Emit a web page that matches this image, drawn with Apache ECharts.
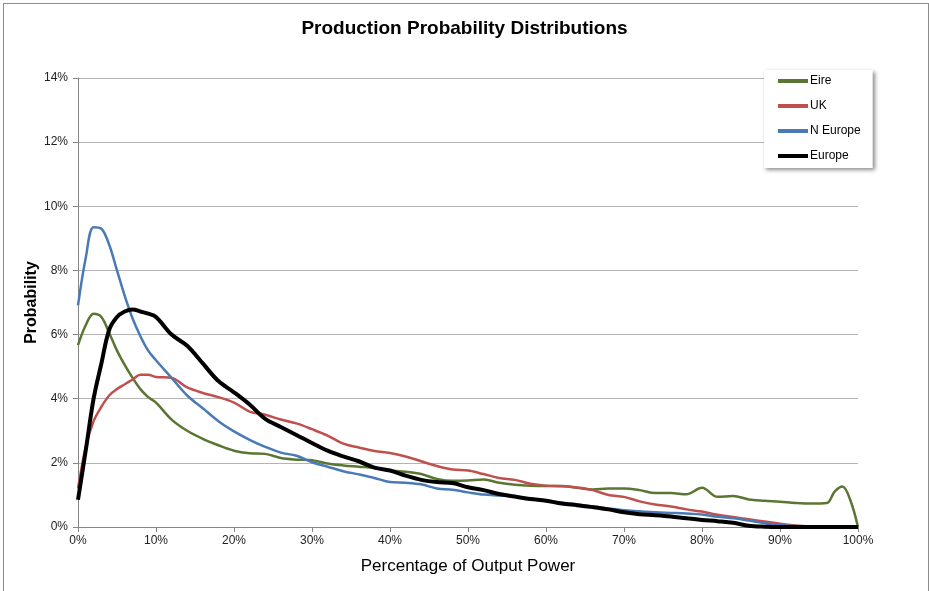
<!DOCTYPE html>
<html><head><meta charset="utf-8">
<script src="https://cdn.jsdelivr.net/npm/echarts@6/dist/echarts.min.js"></script>
<style>
html,body{margin:0;padding:0;background:#fff;overflow:hidden;}
#wrap{position:absolute;left:3px;top:3px;width:924px;height:620px;border:1px solid #8c8c8c;}
#c{width:929px;height:591px;position:absolute;left:0;top:0;}
</style></head>
<body><div id="wrap"></div><div id="c"></div>
<script>
const pct = [0,1,2,3,4,5,6,7,8,9,10,12,14,16,18,20,22,24,26,28,30,32,34,36,38,40,42,44,46,48,50,52,54,56,58,60,62,64,66,68,70,72,74,76,78,80,82,84,86,88,90,92,94,96,97,98,99,100];
const eire = [5.67,6.3,6.65,6.55,6.05,5.5,5.05,4.65,4.3,4.05,3.88,3.35,3.0,2.75,2.55,2.38,2.3,2.28,2.15,2.1,2.08,1.98,1.92,1.88,1.84,1.76,1.72,1.65,1.5,1.44,1.45,1.48,1.38,1.32,1.29,1.28,1.28,1.22,1.17,1.2,1.2,1.15,1.06,1.06,1.02,1.22,0.94,0.97,0.86,0.82,0.79,0.75,0.73,0.75,1.1,1.26,0.85,0];
const uk = [1.2,2.5,3.3,3.75,4.1,4.3,4.45,4.6,4.75,4.75,4.68,4.65,4.35,4.18,4.05,3.88,3.6,3.5,3.35,3.23,3.05,2.85,2.6,2.48,2.37,2.31,2.2,2.05,1.9,1.79,1.76,1.65,1.53,1.47,1.35,1.29,1.27,1.23,1.15,1.0,0.94,0.8,0.7,0.64,0.55,0.48,0.38,0.31,0.24,0.17,0.1,0.05,0.02,0,0,0,0,0];
const nEurope = [6.91,8.4,9.35,9.3,8.8,8.0,7.2,6.5,5.95,5.5,5.2,4.65,4.1,3.7,3.3,2.98,2.72,2.5,2.32,2.22,2.02,1.88,1.74,1.64,1.53,1.4,1.38,1.33,1.2,1.16,1.08,1.01,0.98,0.95,0.88,0.82,0.76,0.7,0.64,0.58,0.52,0.49,0.46,0.44,0.42,0.39,0.32,0.27,0.2,0.12,0.06,0.03,0.01,0,0,0,0,0];
const europe = [0.85,2.4,4.0,5.1,6.15,6.55,6.72,6.78,6.72,6.65,6.55,6.0,5.65,5.1,4.55,4.2,3.82,3.37,3.12,2.87,2.62,2.38,2.2,2.05,1.85,1.76,1.6,1.47,1.4,1.37,1.24,1.15,1.03,0.95,0.87,0.82,0.73,0.68,0.62,0.55,0.46,0.4,0.37,0.33,0.27,0.22,0.18,0.13,0.04,0.01,0,0,0,0,0,0,0,0];
const seriesNames = ['Eire','UK','N Europe','Europe'];
const seriesColors = ['#5b7532','#c0504d','#4a7ab5','#000000'];
const seriesWidths = [2.5,2.5,2.5,4];
const seriesData = [eire, uk, nEurope, europe];

const chart = echarts.init(document.getElementById('c'), null, {renderer:'canvas'});
const font = 'Liberation Sans, Arial, sans-serif';
chart.setOption({
  animation:false,
  backgroundColor:'transparent',
  title:{text:'Production Probability Distributions', left:'center', top:14,
    textStyle:{fontFamily:font, fontSize:19, fontWeight:'bold', color:'#000'}},
  legend:{orient:'vertical', left:764, top:70, itemWidth:30, itemHeight:4, itemGap:13,
    backgroundColor:'#fff', padding:[5,12,6,14],
    shadowColor:'rgba(0,0,0,0.45)', shadowBlur:4, shadowOffsetX:2, shadowOffsetY:2,
    textStyle:{fontFamily:font, fontSize:12, color:'#000', padding:[0,28,0,-3]},
    icon:'rect',
    data:seriesNames},
  grid:{left:78, right:71, top:78, bottom:64},
  xAxis:{type:'value', min:0, max:100, interval:10,
    name:'Percentage of Output Power', nameLocation:'middle', nameGap:31,
    nameTextStyle:{fontFamily:font, fontSize:17, color:'#000'},
    axisLine:{lineStyle:{color:'#868686'}},
    axisTick:{lineStyle:{color:'#868686'}, length:5},
    axisLabel:{formatter:'{value}%', fontFamily:font, fontSize:12, color:'#222', margin:8},
    splitLine:{show:false}},
  yAxis:{type:'value', min:0, max:14, interval:2,
    name:'Probability', nameLocation:'middle', nameGap:38, nameMoveOverlap:false,
    nameTextStyle:{fontFamily:font, fontSize:16, color:'#000', fontWeight:'bold'},
    axisLine:{show:true, lineStyle:{color:'#868686'}},
    axisTick:{show:true, lineStyle:{color:'#868686'}, length:5},
    axisLabel:{formatter:'{value}%', fontFamily:font, fontSize:12, color:'#222', margin:10},
    splitLine:{lineStyle:{color:'#b4b4b4', width:1}}},
  series: seriesNames.map((n,i)=>({
    name:n, type:'line', smooth:0.35, showSymbol:false, symbol:'none',
    data: pct.map((x,j)=>[x, seriesData[i][j]]),
    lineStyle:{color:seriesColors[i], width:seriesWidths[i]},
    itemStyle:{color:seriesColors[i]},
    z: i===3 ? 5 : 2
  }))
});
</script></body></html>
